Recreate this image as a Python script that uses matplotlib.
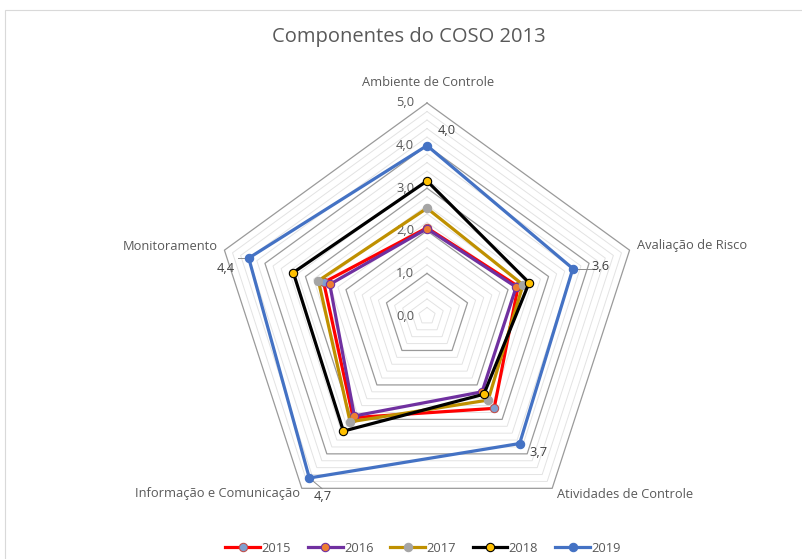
import numpy as np
import matplotlib.pyplot as plt
from matplotlib.patches import Rectangle

categories = ['Ambiente de Controle', 'Avaliação de Risco', 'Atividades de Controle',
              'Informação e Comunicação', 'Monitoramento']
years = ['2015', '2016', '2017', '2018', '2019']
v2015 = [2.07, 2.25, 2.68, 2.95, 2.55]
v2016 = [2.05, 2.20, 2.20, 2.90, 2.40]
v2017 = [2.53, 2.37, 2.44, 3.07, 2.68]
v2018 = [3.17, 2.52, 2.27, 3.34, 3.30]
v2019 = [4.0, 3.6, 3.7, 4.7, 4.4]
series = [v2015, v2016, v2017, v2018, v2019]
ticks = [0, 1, 2, 3, 4, 5]

line_colors = ['#FF0000', '#7030A0', '#BF9000', '#000000', '#4472C4']
marker_faces = ['#7F9FCF', '#ED7D31', '#A5A5A5', '#FFC000', '#4472C4']
marker_edges = ['#C0504D', '#7030A0', '#A5A5A5', '#000000', '#4472C4']

W, H = 803, 559
cx, cy = 427, 316      # centre in pixels from top-left
ppu = 42.6             # pixels per unit
fs = 9.3

fig = plt.figure(figsize=(W / 100, H / 100), dpi=100)
ax = fig.add_axes([0, 0, 1, 1])
ax.set_xlim(-cx / ppu, (W - cx) / ppu)
ax.set_ylim(-(H - cy) / ppu, cy / ppu)
ax.axis('off')

n = len(categories)
ang = np.pi / 2 - np.arange(n) * 2 * np.pi / n


def xy(vals):
    vals = np.asarray(vals, dtype=float)
    return vals * np.cos(ang), vals * np.sin(ang)


# grid
for r in np.arange(0.2, 5.01, 0.2):
    gx, gy = xy([r] * n)
    major = abs(r - round(r)) < 1e-6
    ax.plot(np.append(gx, gx[0]), np.append(gy, gy[0]),
            color='#9A9A9A' if major else '#E3E3E3',
            lw=0.9 if major else 0.7, zorder=1)

# tick labels on top axis
for t in ticks:
    ax.text(-0.3, t, f'{t:.1f}'.replace('.', ','), ha='right', va='center',
            fontsize=fs, color='#595959', family='Open Sans')

# category labels
lab_pos = [(428, 83, 'center'), (637, 246, 'left'), (557, 494, 'left'),
           (300, 494, 'right'), (218, 246, 'right')]
for c, (px, py, ha) in zip(categories, lab_pos):
    ax.text((px - cx) / ppu, (cy - py) / ppu, c, ha=ha, va='center',
            fontsize=fs, color='#595959', family='Open Sans')

# series
for vals, name, lc, mf, me in zip(series, years, line_colors, marker_faces, marker_edges):
    sx, sy = xy(vals)
    ax.plot(np.append(sx, sx[0]), np.append(sy, sy[0]), color=lc, lw=2.3,
            marker='o', ms=6, mfc=mf, mec=me, mew=0.8, label=name, zorder=3,
            markevery=list(range(n)))

# data labels for 2019
sx, sy = xy(v2019)
lab19 = [(447, 130, 'center'), (600, 267, 'center'), (538, 452, 'center'),
         (323, 497, 'center'), (226, 268, 'center')]
for v, (px, py, ha) in zip(v2019, lab19):
    ax.text((px - cx) / ppu, (cy - py) / ppu, f'{v:.1f}'.replace('.', ','),
            ha=ha, va='center', fontsize=fs, color='#404040', family='Open Sans')
# leader lines
ax.plot([sx[1] + 0.05, sx[1] + 0.55], [sy[1], sy[1]], color='#8C8C8C', lw=0.7, zorder=2)
ax.plot([sx[4] + 0.05, sx[4] - 0.25], [sy[4], sy[4]], color='#8C8C8C', lw=0.7, zorder=2)
ax.plot([sx[3], sx[3] + 0.3], [sy[3], sy[3] - 0.25], color='#8C8C8C', lw=0.7, zorder=2)

fig.text(409 / W, 1 - 37 / H, 'Componentes do COSO 2013', ha='center', va='center',
         fontsize=14.5, color='#595959', family='Open Sans')

# chart frame
fig.patches.append(Rectangle((5 / W, -0.1), 1.1, 1 - 10 / H + 0.1,
                             transform=fig.transFigure, fill=False,
                             edgecolor='#D9D9D9', lw=0.8))

leg = ax.legend(loc='center', bbox_to_anchor=(423 / W, 1 - 548 / H), ncol=5,
                frameon=False, handlelength=2.7, handletextpad=0.1,
                columnspacing=1.3, prop={'family': 'Open Sans', 'size': fs})
for t in leg.get_texts():
    t.set_color('#595959')

fig.savefig('out.png', dpi=100)
